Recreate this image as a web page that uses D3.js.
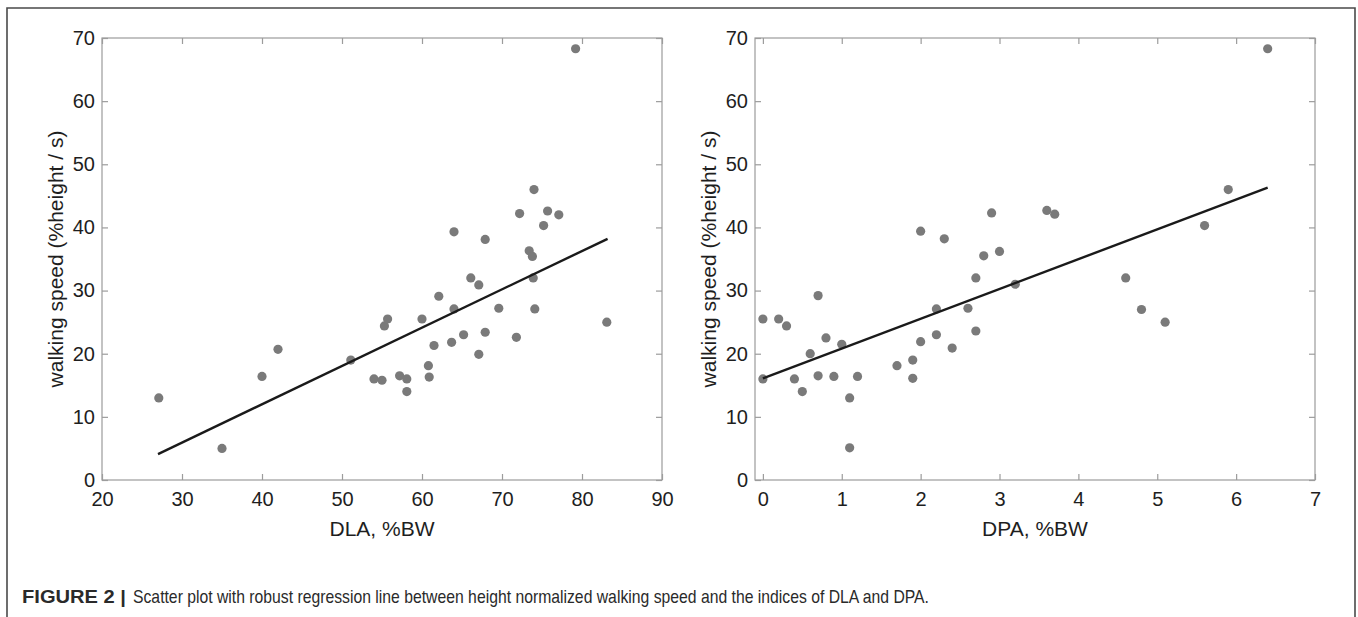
<!DOCTYPE html>
<html>
<head>
<meta charset="utf-8">
<script src="https://cdn.jsdelivr.net/npm/d3@7"></script>
<style>
  html, body { margin: 0; padding: 0; background: #fff; }
  svg { display: block; font-family: "Liberation Sans", Arial, sans-serif; }
</style>
</head>
<body>
<div id="figure"></div>
<script>
// DLA index (%BW) vs height-normalised walking speed
const dlaValues = [27.1, 35.0, 40.0, 42.0, 51.1, 54.0, 55.0, 55.3, 55.7, 57.2, 58.1, 58.1, 60.0, 60.8, 60.9,
  61.5, 62.1, 63.7, 64.0, 64.0, 65.2, 66.1, 67.1, 67.1, 67.9, 67.9, 69.6, 71.8, 72.2, 73.4, 73.8, 73.9,
  74.1, 74.0, 75.2, 75.7, 77.1, 79.2, 83.1];
const dlaSpeed = [13.0, 5.0, 16.4, 20.7, 19.0, 16.0, 15.8, 24.4, 25.5, 16.5, 16.0, 14.0, 25.5, 18.1, 16.3,
  21.3, 29.1, 21.8, 27.1, 39.3, 23.0, 32.0, 30.9, 19.9, 23.4, 38.1, 27.2, 22.6, 42.2, 36.3, 35.4, 32.0,
  27.1, 46.0, 40.3, 42.6, 42.0, 68.3, 25.0];

// DPA index (%BW) vs height-normalised walking speed
const dpaValues = [0.0, 0.0, 0.2, 0.3, 0.4, 0.5, 0.6, 0.7, 0.7, 0.8, 0.9, 1.0, 1.1, 1.1, 1.2, 1.7, 1.9, 1.9,
  2.0, 2.0, 2.2, 2.2, 2.3, 2.4, 2.6, 2.7, 2.7, 2.8, 2.9, 3.0, 3.2, 3.6, 3.7, 4.6, 4.8, 5.1, 5.6, 5.9, 6.4];
const dpaSpeed = [25.5, 16.0, 25.5, 24.4, 16.0, 14.0, 20.0, 29.2, 16.5, 22.5, 16.4, 21.5, 13.0, 5.1, 16.4,
  18.1, 19.0, 16.1, 39.4, 21.9, 27.1, 23.0, 38.2, 20.9, 27.2, 32.0, 23.6, 35.5, 42.3, 36.2, 31.0, 42.7,
  42.1, 32.0, 27.0, 25.0, 40.3, 46.0, 68.3];

// robust regression line end points
const dlaFit = [[27.0, 4.1], [83.2, 38.2]];
const dpaFit = [[0.0, 16.1], [6.4, 46.3]];

const dlaTicks = [20, 30, 40, 50, 60, 70, 80, 90];
const dpaTicks = [0, 1, 2, 3, 4, 5, 6, 7];
const speedTicks = [0, 10, 20, 30, 40, 50, 60, 70];

const xTitles = [`DLA, %BW`, `DPA, %BW`];
const yTitle = `walking speed (%height / s)`;
const captionLead = `FIGURE 2 |`;
const captionText = `Scatter plot with robust regression line between height normalized walking speed and the indices of DLA and DPA.`;

const W = 1358;
const H = 617;

class ScatterPanel {
  constructor(svg, opts) {
    this.svg = svg;
    this.opts = opts;
    this.left = opts.left;
    this.top = 38;
    this.width = 560;
    this.height = 442;
    this.x = d3.scaleLinear().domain(opts.xDomain).range([0, this.width]);
    this.y = d3.scaleLinear().domain([0, 70]).range([this.height, 0]);
  }

  render() {
    const g = this.svg.append(`g`)
      .attr(`transform`, `translate(${this.left},${this.top})`);

    g.append(`rect`)
      .attr(`width`, this.width)
      .attr(`height`, this.height)
      .attr(`fill`, `none`)
      .attr(`stroke`, `#9c9c9c`)
      .attr(`stroke-width`, 1.2);

    // matlab style: ticks inside on all four sides
    const tk = 6;
    const axes = [
      [d3.axisBottom(this.x), `translate(0,${this.height})`, true],
      [d3.axisTop(this.x), null, false],
      [d3.axisLeft(this.y), null, true],
      [d3.axisRight(this.y), `translate(${this.width},0)`, false]
    ];
    axes.forEach(([axis, tr, labelled], i) => {
      const isX = i < 2;
      axis.tickValues(isX ? this.opts.xTicks : speedTicks)
        .tickSizeInner(-tk)
        .tickSizeOuter(0)
        .tickPadding(isX ? 12 : 7)
        .tickFormat(labelled ? d3.format(`d`) : () => ``);
      const ag = g.append(`g`).call(axis);
      if (tr) ag.attr(`transform`, tr);
      ag.select(`.domain`).remove();
      ag.selectAll(`.tick line`).attr(`stroke`, `#9c9c9c`).attr(`stroke-width`, 1.2);
      ag.selectAll(`.tick text`)
        .attr(`fill`, `#1e1e1e`)
        .style(`font-size`, `20px`)
        .style(`font-family`, `"Liberation Sans", Arial, sans-serif`);
    });

    g.append(`g`).selectAll(`circle`)
      .data(this.opts.xs.map((v, i) => [v, this.opts.ys[i]]))
      .enter().append(`circle`)
        .attr(`cx`, (d) => this.x(d[0]))
        .attr(`cy`, (d) => this.y(d[1]))
        .attr(`r`, 4.6)
        .attr(`fill`, `#7a7a7a`);

    g.append(`path`)
      .datum(this.opts.fit)
      .attr(`d`, d3.line().x((d) => this.x(d[0])).y((d) => this.y(d[1])))
      .attr(`fill`, `none`)
      .attr(`stroke`, `#1a1a1a`)
      .attr(`stroke-width`, 2.4);

    g.append(`text`)
      .attr(`x`, this.width / 2)
      .attr(`y`, this.height + 56)
      .attr(`text-anchor`, `middle`)
      .attr(`fill`, `#1e1e1e`)
      .style(`font-size`, `21px`)
      .text(this.opts.xTitle);

    g.append(`text`)
      .attr(`transform`, `translate(-39,${this.height / 2}) rotate(-90)`)
      .attr(`text-anchor`, `middle`)
      .attr(`fill`, `#1e1e1e`)
      .style(`font-size`, `21px`)
      .text(yTitle);
  }
}

const svg = d3.select(`#figure`).append(`svg`)
  .attr(`width`, W)
  .attr(`height`, H);

// frame round the figure (open at the bottom, cut by the page)
svg.append(`path`)
  .attr(`d`, `M7,${H} V8 H1355 V${H}`)
  .attr(`fill`, `none`)
  .attr(`stroke`, `#4a4a4a`)
  .attr(`stroke-width`, 1.6);

new ScatterPanel(svg, {
  left: 102, xDomain: [20, 90], xTicks: dlaTicks,
  xs: dlaValues, ys: dlaSpeed, fit: dlaFit, xTitle: xTitles[0]
}).render();

new ScatterPanel(svg, {
  left: 755, xDomain: [-0.1, 7], xTicks: dpaTicks,
  xs: dpaValues, ys: dpaSpeed, fit: dpaFit, xTitle: xTitles[1]
}).render();

// caption: wide bold lead, narrow body text
svg.append(`text`)
  .attr(`x`, 22)
  .attr(`y`, 603)
  .attr(`fill`, `#2a2a2a`)
  .attr(`font-weight`, `bold`)
  .attr(`textLength`, 104)
  .attr(`lengthAdjust`, `spacingAndGlyphs`)
  .style(`font-size`, `18px`)
  .text(captionLead);

svg.append(`text`)
  .attr(`x`, 133)
  .attr(`y`, 603)
  .attr(`fill`, `#2a2a2a`)
  .attr(`textLength`, 796)
  .attr(`lengthAdjust`, `spacingAndGlyphs`)
  .style(`font-size`, `19px`)
  .text(captionText);
</script>
</body>
</html>
